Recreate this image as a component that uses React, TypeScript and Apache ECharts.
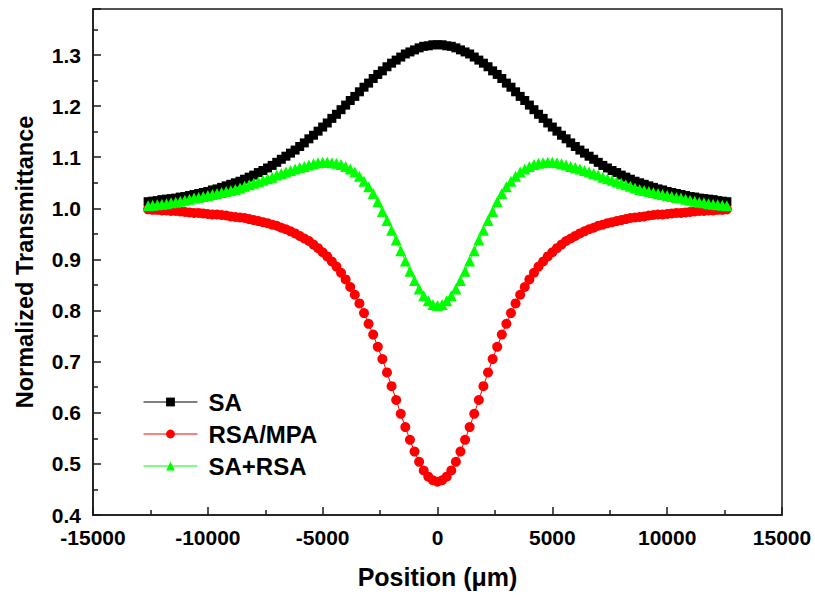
import React, { useEffect, useRef } from 'react';
import * as echarts from 'echarts';

// Sample positions along the z-scan (µm)
const positions = [
  -12600, -12400, -12200, -12000, -11800, -11600, -11400, -11200, -11000, -10800,
  -10600, -10400, -10200, -10000, -9800, -9600, -9400, -9200, -9000, -8800,
  -8600, -8400, -8200, -8000, -7800, -7600, -7400, -7200, -7000, -6800,
  -6600, -6400, -6200, -6000, -5800, -5600, -5400, -5200, -5000, -4800,
  -4600, -4400, -4200, -4000, -3800, -3600, -3400, -3200, -3000, -2800,
  -2600, -2400, -2200, -2000, -1800, -1600, -1400, -1200, -1000, -800,
  -600, -400, -200,
  0,
  200, 400, 600, 800, 1000, 1200, 1400, 1600, 1800, 2000,
  2200, 2400, 2600, 2800, 3000, 3200, 3400, 3600, 3800, 4000,
  4200, 4400, 4600, 4800, 5000, 5200, 5400, 5600, 5800, 6000,
  6200, 6400, 6600, 6800, 7000, 7200, 7400, 7600, 7800, 8000,
  8200, 8400, 8600, 8800, 9000, 9200, 9400, 9600, 9800, 10000,
  10200, 10400, 10600, 10800, 11000, 11200, 11400, 11600, 11800, 12000,
  12200, 12400, 12600,
];

// Saturable absorption
const saValues = [
  1.013, 1.014, 1.015, 1.017, 1.018, 1.019, 1.020, 1.022, 1.023, 1.025,
  1.027, 1.029, 1.031, 1.033, 1.036, 1.038, 1.041, 1.044, 1.047, 1.050,
  1.053, 1.057, 1.061, 1.065, 1.070, 1.074, 1.079, 1.084, 1.090, 1.096,
  1.102, 1.108, 1.114, 1.121, 1.128, 1.136, 1.143, 1.151, 1.159, 1.167,
  1.176, 1.184, 1.193, 1.202, 1.211, 1.219, 1.228, 1.237, 1.245, 1.254,
  1.262, 1.269, 1.277, 1.284, 1.290, 1.296, 1.302, 1.306, 1.310, 1.314,
  1.317, 1.318, 1.320,
  1.320,
  1.320, 1.318, 1.317, 1.314, 1.310, 1.306, 1.302, 1.296, 1.290, 1.284,
  1.277, 1.269, 1.262, 1.254, 1.245, 1.237, 1.228, 1.219, 1.211, 1.202,
  1.193, 1.184, 1.176, 1.167, 1.159, 1.151, 1.143, 1.136, 1.128, 1.121,
  1.114, 1.108, 1.102, 1.096, 1.090, 1.084, 1.079, 1.074, 1.070, 1.065,
  1.061, 1.057, 1.053, 1.050, 1.047, 1.044, 1.041, 1.038, 1.036, 1.033,
  1.031, 1.029, 1.027, 1.025, 1.023, 1.022, 1.020, 1.019, 1.018, 1.017,
  1.015, 1.014, 1.013,
];

// Reverse saturable / multiphoton absorption
const rsaValues = [
  0.998, 0.997, 0.997, 0.996, 0.996, 0.995, 0.995, 0.994, 0.993, 0.992,
  0.991, 0.991, 0.990, 0.989, 0.988, 0.988, 0.987, 0.986, 0.984, 0.983,
  0.982, 0.981, 0.979, 0.977, 0.975, 0.973, 0.971, 0.968, 0.966, 0.962,
  0.959, 0.955, 0.951, 0.946, 0.941, 0.936, 0.929, 0.922, 0.914, 0.906,
  0.896, 0.886, 0.874, 0.861, 0.846, 0.831, 0.814, 0.795, 0.774, 0.753,
  0.729, 0.705, 0.679, 0.652, 0.625, 0.598, 0.572, 0.547, 0.524, 0.504,
  0.487, 0.475, 0.468,
  0.465,
  0.468, 0.475, 0.487, 0.504, 0.524, 0.547, 0.572, 0.598, 0.625, 0.652,
  0.679, 0.705, 0.729, 0.753, 0.774, 0.795, 0.814, 0.831, 0.846, 0.861,
  0.874, 0.886, 0.896, 0.906, 0.914, 0.922, 0.929, 0.936, 0.941, 0.946,
  0.951, 0.955, 0.959, 0.962, 0.966, 0.968, 0.971, 0.973, 0.975, 0.977,
  0.979, 0.981, 0.982, 0.983, 0.984, 0.986, 0.987, 0.988, 0.988, 0.989,
  0.990, 0.991, 0.991, 0.992, 0.993, 0.994, 0.995, 0.995, 0.996, 0.996,
  0.997, 0.997, 0.998,
];

// Combined SA + RSA response
const hybridValues = [
  1.005, 1.006, 1.007, 1.008, 1.009, 1.011, 1.012, 1.014, 1.016, 1.018,
  1.020, 1.021, 1.023, 1.025, 1.027, 1.029, 1.031, 1.033, 1.035, 1.037,
  1.040, 1.043, 1.046, 1.049, 1.052, 1.055, 1.058, 1.061, 1.065, 1.068,
  1.071, 1.074, 1.077, 1.080, 1.082, 1.085, 1.087, 1.089, 1.090, 1.090,
  1.089, 1.088, 1.086, 1.082, 1.077, 1.071, 1.063, 1.053, 1.042, 1.029,
  1.013, 0.994, 0.976, 0.957, 0.938, 0.917, 0.897, 0.877, 0.859, 0.842,
  0.829, 0.819, 0.812,
  0.810,
  0.812, 0.819, 0.829, 0.842, 0.859, 0.877, 0.897, 0.917, 0.938, 0.957,
  0.976, 0.994, 1.013, 1.029, 1.042, 1.053, 1.063, 1.071, 1.077, 1.082,
  1.086, 1.088, 1.089, 1.090, 1.090, 1.089, 1.087, 1.085, 1.082, 1.080,
  1.077, 1.074, 1.071, 1.068, 1.065, 1.061, 1.058, 1.055, 1.052, 1.049,
  1.046, 1.043, 1.040, 1.037, 1.035, 1.033, 1.031, 1.029, 1.027, 1.025,
  1.023, 1.021, 1.020, 1.018, 1.016, 1.014, 1.012, 1.011, 1.009, 1.008,
  1.007, 1.006, 1.005,
];

const seriesNames = ['SA', 'RSA/MPA', 'SA+RSA'];

const FONT = "'Liberation Sans', Arial, Helvetica, sans-serif";
const AXIS_COLOR = '#1a1a1a';

export default function App() {
  const ref = useRef<HTMLDivElement>(null);

  useEffect(() => {
    document.body.style.margin = '0';
    const chart = echarts.init(ref.current as HTMLDivElement, null, { renderer: 'svg' });
    const toPairs = (vals: number[]) => positions.map((x, i) => [x, vals[i]]);

    const axisCommon = {
      axisLine: { onZero: false, lineStyle: { color: AXIS_COLOR, width: 1.5 } },
      axisTick: { inside: true, length: 8, lineStyle: { color: AXIS_COLOR, width: 1.5 } },
      minorTick: { show: true, splitNumber: 2, length: 5, lineStyle: { color: AXIS_COLOR, width: 1.5 } },
      splitLine: { show: false },
    };
    const tickLabel = { fontFamily: FONT, fontWeight: 'bold', fontSize: 21, color: '#000', margin: 12 };

    chart.setOption({
      animation: false,
      backgroundColor: '#ffffff',
      grid: {
        left: 93, right: 33, top: 9, bottom: 82,
        show: true, borderColor: AXIS_COLOR, borderWidth: 1.5,
      },
      legend: {
        orient: 'vertical',
        left: 143,
        top: 390,
        padding: 0,
        itemWidth: 54,
        itemHeight: 11,
        itemGap: 8,
        data: seriesNames,
        lineStyle: { width: 1 },
        textStyle: { fontFamily: FONT, fontWeight: 'bold', fontSize: 24, color: '#000', padding: [0, 0, 0, 6] },
      },
      xAxis: {
        type: 'value',
        min: -15000,
        max: 15000,
        interval: 5000,
        name: 'Position (μm)',
        nameLocation: 'middle',
        nameGap: 49,
        nameTextStyle: { fontFamily: FONT, fontWeight: 'bold', fontSize: 25, color: '#000' },
        ...axisCommon,
        axisLabel: { ...tickLabel, formatter: (v: number) => String(v) },
      },
      yAxis: {
        type: 'value',
        min: 0.4,
        max: 1.39,
        interval: 0.1,
        name: 'Normalized Transmittance',
        nameLocation: 'middle',
        nameGap: 56,
        nameTextStyle: { fontFamily: FONT, fontWeight: 'bold', fontSize: 23.5, color: '#000' },
        ...axisCommon,
        axisLabel: {
          ...tickLabel,
          formatter: (v: number) => (v > 1.35 ? '' : v.toFixed(1)),
        },
      },
      series: [
        {
          name: seriesNames[0], type: 'line', data: toPairs(saValues),
          symbol: 'rect', symbolSize: 9, showAllSymbol: true,
          itemStyle: { color: '#000000' }, lineStyle: { color: '#000000', width: 1 },
        },
        {
          name: seriesNames[1], type: 'line', data: toPairs(rsaValues),
          symbol: 'circle', symbolSize: 10, showAllSymbol: true,
          itemStyle: { color: '#ff0000' }, lineStyle: { color: '#ff0000', width: 1 },
        },
        {
          name: seriesNames[2], type: 'line', data: toPairs(hybridValues),
          symbol: 'triangle', symbolSize: 11, showAllSymbol: true,
          itemStyle: { color: '#00ff00' }, lineStyle: { color: '#00ff00', width: 1 },
        },
      ],
    });

    return () => chart.dispose();
  }, []);

  return <div ref={ref} style={{ width: 815, height: 597 }} />;
}
